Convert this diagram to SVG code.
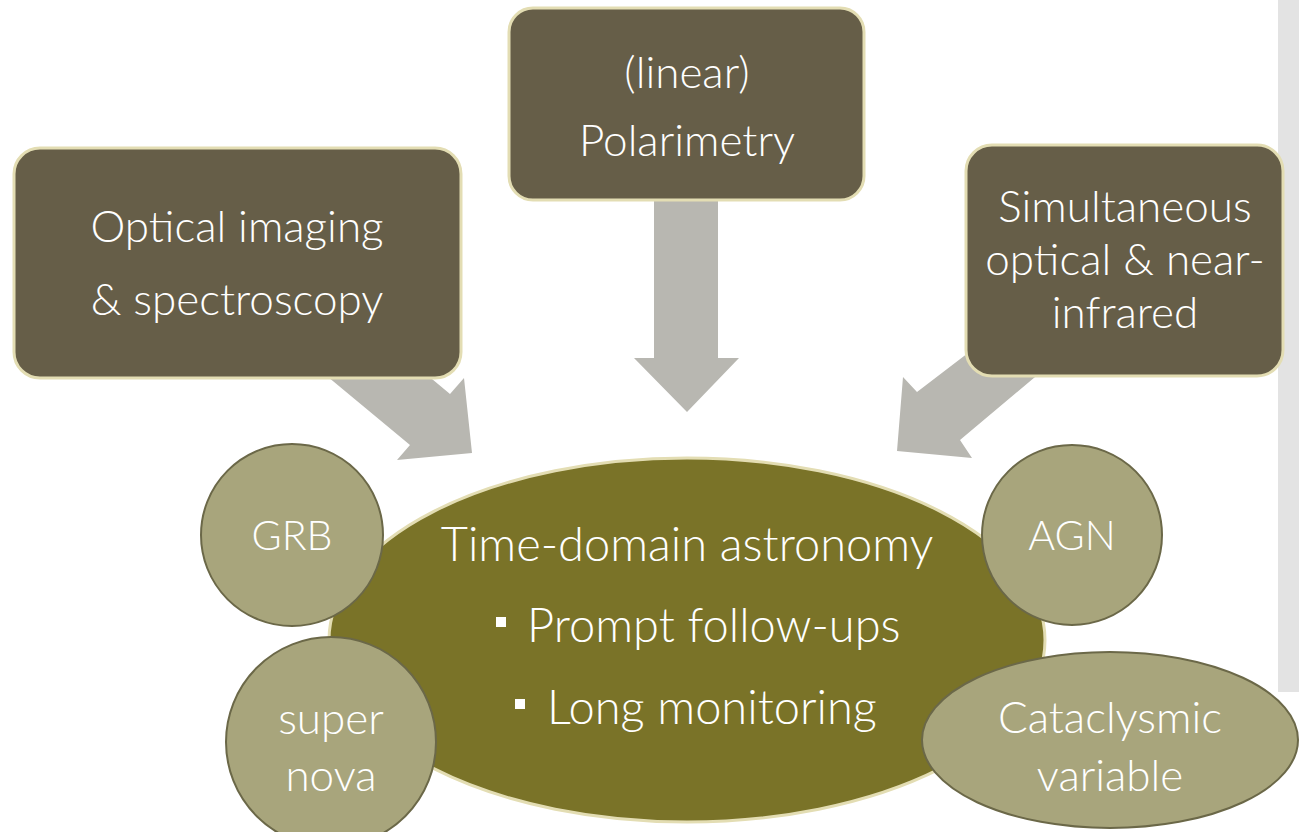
<svg xmlns="http://www.w3.org/2000/svg" width="1299" height="832" viewBox="0 0 1299 832">
<style>
.box{fill:#665E48;stroke:#E3DDB3;stroke-width:3}
.arrow{fill:#B8B7B1}
.small{fill:#A8A57C;stroke:#6B6848;stroke-width:2}
.main{fill:#7A7328;stroke:#E3DDB3;stroke-width:3}
text{font-family:Lato,"Open Sans","Liberation Sans",sans-serif;font-weight:300;fill:#FFFFFF;text-anchor:middle}
.t40{font-size:44px}
.t44{font-size:47px}
.caps{font-size:41px}
.bul{fill:#FFFFFF}
</style>
<rect x="1278" y="0" width="21" height="692" fill="#E3E3E3"/>
<g id="connectors">
<polygon class="arrow" points="654,195 718,195 718,358 739,358 687,412 634,358 654,358"/>
<polygon class="arrow" points="310,362 420,369 450,394 464,378 472,453 397,460 410,445"/>
<polygon class="arrow" points="985,340 1060,356 960,440 972,458 897,451 903,377 917,392"/>
</g>
<g id="optical">
<rect class="box" x="14" y="148" width="447" height="230" rx="26"/>
<text class="t40" x="237" y="242">Optical imaging</text>
<text class="t40" x="237" y="315">&amp; spectroscopy</text>
</g>
<g id="polarimetry">
<rect class="box" x="509" y="8" width="355" height="192" rx="24"/>
<text class="t40" x="687" y="88">(linear)</text>
<text class="t40" x="687" y="156">Polarimetry</text>
</g>
<g id="simultaneous">
<rect class="box" x="966" y="145" width="317" height="231" rx="26"/>
<text class="t40" x="1125" y="222">Simultaneous</text>
<text class="t40" x="1125" y="275">optical &amp; near-</text>
<text class="t40" x="1125" y="328">infrared</text>
</g>
<g id="timedomain">
<ellipse class="main" cx="687" cy="640" rx="358" ry="182"/>
<text class="t44" x="687" y="561">Time-domain astronomy</text>
<rect class="bul" x="496" y="617" width="10" height="10"/>
<text class="t44" x="527" y="642" style="text-anchor:start">Prompt follow-ups</text>
<rect class="bul" x="515" y="699" width="10" height="10"/>
<text class="t44" x="547" y="724" style="text-anchor:start">Long monitoring</text>
</g>
<g id="grb">
<circle class="small" cx="292" cy="535" r="91"/>
<text class="caps" x="292" y="550">GRB</text>
</g>
<g id="agn">
<circle class="small" cx="1072" cy="535" r="90"/>
<text class="caps" x="1072" y="550">AGN</text>
</g>
<g id="supernova">
<circle class="small" cx="331" cy="742" r="105"/>
<text class="t40" x="331" y="734">super</text>
<text class="t40" x="331" y="791">nova</text>
</g>
<g id="cataclysmic">
<ellipse class="small" cx="1110" cy="740" rx="188" ry="88"/>
<text class="t40" x="1110" y="733">Cataclysmic</text>
<text class="t40" x="1110" y="791">variable</text>
</g>
</svg>
